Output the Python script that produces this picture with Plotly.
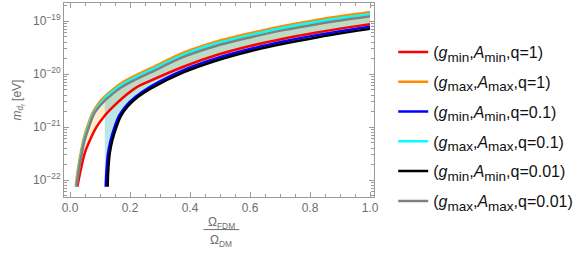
import plotly.graph_objects as go

# ---- data (x = Omega_FDM/Omega_DM, values = log10 of m in eV) ----
red_x = [0.0244, 0.0333, 0.049, 0.0667, 0.089, 0.113, 0.144, 0.18, 0.219, 0.267, 0.378, 0.489, 0.6, 0.711, 0.822, 0.933, 1.0]
red_lg = [-22.126, -21.874, -21.496, -21.245, -20.994, -20.805, -20.617, -20.428, -20.26, -20.13, -19.862, -19.642, -19.472, -19.333, -19.216, -19.115, -19.06]

orange_x = [0.019, 0.0244, 0.0356, 0.0444, 0.0578, 0.0744, 0.0967, 0.124, 0.145, 0.169, 0.213, 0.267, 0.378, 0.489, 0.6, 0.711, 0.822, 0.933, 1.0]
orange_lg = [-22.126, -21.874, -21.496, -21.245, -20.994, -20.742, -20.54, -20.38, -20.28, -20.18, -20.04, -19.895, -19.598, -19.386, -19.23, -19.092, -18.98, -18.883, -18.83]

blue_x = [0.119, 0.121, 0.1267, 0.1356, 0.149, 0.1633, 0.1856, 0.219, 0.267, 0.378, 0.489, 0.6, 0.711, 0.822, 0.933, 1.0]
blue_lg = [-22.126, -21.874, -21.496, -21.245, -20.994, -20.79, -20.607, -20.43, -20.24, -19.925, -19.70, -19.527, -19.386, -19.266, -19.163, -19.107]

cyan_x = [0.021, 0.0265, 0.038, 0.047, 0.061, 0.078, 0.1, 0.116, 0.124, 0.145, 0.169, 0.213, 0.267, 0.378, 0.489, 0.6, 0.711, 0.822, 0.933, 1.0]
cyan_lg = [-22.126, -21.874, -21.496, -21.245, -20.994, -20.742, -20.56, -20.46, -20.415, -20.315, -20.215, -20.075, -19.93, -19.633, -19.42, -19.265, -19.127, -19.015, -18.918, -18.865]

black_x = [0.1256, 0.127, 0.1325, 0.1415, 0.155, 0.17, 0.193, 0.227, 0.267, 0.378, 0.489, 0.6, 0.711, 0.822, 0.933, 1.0]
black_lg = [-22.126, -21.874, -21.496, -21.245, -20.994, -20.79, -20.607, -20.43, -20.28, -19.97, -19.745, -19.57, -19.43, -19.31, -19.205, -19.148]

gray_x = [0.022, 0.028, 0.0395, 0.049, 0.0635, 0.081, 0.103, 0.116, 0.124, 0.145, 0.169, 0.213, 0.267, 0.378, 0.489, 0.6, 0.711, 0.822, 0.933, 1.0]
gray_lg = [-22.126, -21.874, -21.496, -21.245, -20.994, -20.742, -20.58, -20.50, -20.46, -20.36, -20.26, -20.12, -19.975, -19.678, -19.466, -19.31, -19.172, -19.06, -18.963, -18.91]

fill_start_x = 0.116   # left edge of q=0.1 / q=0.01 filling
y_floor_lg = -22.126   # bottom of the plotted curves

SUB = "<sub><span style='font-size:13.5px'>{}</span></sub>"
names = [
    "(<i>g</i>" + SUB.format("min") + ",<i>A</i>" + SUB.format("min") + ",q=1)",
    "(<i>g</i>" + SUB.format("max") + ",<i>A</i>" + SUB.format("max") + ",q=1)",
    "(<i>g</i>" + SUB.format("min") + ",<i>A</i>" + SUB.format("min") + ",q=0.1)",
    "(<i>g</i>" + SUB.format("max") + ",<i>A</i>" + SUB.format("max") + ",q=0.1)",
    "(<i>g</i>" + SUB.format("min") + ",<i>A</i>" + SUB.format("min") + ",q=0.01)",
    "(<i>g</i>" + SUB.format("max") + ",<i>A</i>" + SUB.format("max") + ",q=0.01)",
]
colors = ["#ff0000", "#ff8c00", "#0000ff", "#00ffff", "#000000", "#808080"]

xticks = [0.0, 0.2, 0.4, 0.6, 0.8, 1.0]
xtick_text = ["0.0", "0.2", "0.4", "0.6", "0.8", "1.0"]
ydecades = [-22, -21, -20, -19]


def p(v):
    return [10 ** t for t in v]


fig = go.Figure()

# fillings (polygons built from the series)
def band(tx, tl, bx, bl, start_x, color):
    xs = list(tx) + list(reversed(bx)) + [start_x]
    ys = list(tl) + list(reversed(bl)) + [y_floor_lg]
    fig.add_trace(go.Scatter(x=xs, y=p(ys), fill="toself", fillcolor=color,
                             line=dict(width=0), mode="lines", showlegend=False,
                             hoverinfo="skip"))

band(orange_x, orange_lg, red_x, red_lg, orange_x[0], "rgba(255,165,0,0.2)")
ci = cyan_x.index(fill_start_x)
band(cyan_x[ci:], cyan_lg[ci:], blue_x, blue_lg, fill_start_x, "rgba(0,255,255,0.2)")
gi = gray_x.index(fill_start_x)
band(gray_x[gi:], gray_lg[gi:], black_x, black_lg, fill_start_x, "rgba(128,128,128,0.2)")

series = [(red_x, red_lg), (orange_x, orange_lg), (blue_x, blue_lg),
          (cyan_x, cyan_lg), (black_x, black_lg), (gray_x, gray_lg)]
for i, ((sx, sl), nm, c) in enumerate(zip(series, names, colors)):
    fig.add_trace(go.Scatter(x=sx, y=p(sl), mode="lines", name=nm,
                             legendgroup=f"g{i}",
                             line=dict(color=c, width=2.5, shape="spline", smoothing=0.8)))

minor_y = [m * 10 ** d for d in range(-23, -18) for m in range(2, 10)]
minor_x = [i * 0.05 for i in range(-1, 22)]

axis_col = "#9a9a9a"
tick_font = dict(family="Liberation Sans", size=12, color="#6e6e6e")

fig.update_xaxes(range=[-0.02, 1.0133], showgrid=False, zeroline=False,
                 showline=True, linecolor=axis_col, linewidth=1, mirror="ticks",
                 ticks="inside", ticklen=5, tickcolor=axis_col,
                 tickmode="array", tickvals=xticks, ticktext=xtick_text,
                 tickfont=tick_font,
                 minor=dict(ticks="inside", ticklen=3, tickcolor=axis_col,
                            tickmode="array", tickvals=minor_x, showgrid=False))
fig.update_yaxes(type="log", range=[-22.32, -18.66], showgrid=False, zeroline=False,
                 showline=True, linecolor=axis_col, linewidth=1, mirror="ticks",
                 ticks="inside", ticklen=5, tickcolor=axis_col,
                 tickmode="array", tickvals=[10 ** d for d in ydecades],
                 ticktext=[f"10<sup>\u2212{-d}</sup>" for d in ydecades],
                 tickfont=tick_font,
                 minor=dict(ticks="inside", ticklen=3, tickcolor=axis_col,
                            tickmode="array", tickvals=minor_y, showgrid=False))

title_font = dict(family="Liberation Sans", size=12, color="#6e6e6e")
fig.add_annotation(text="<i>m</i><sub><i>d</i><sub><i>f</i></sub></sub> [eV]",
                   xref="paper", yref="paper", x=-0.182, y=0.5, textangle=-90,
                   showarrow=False, font=title_font)
fig.add_annotation(text="\u03a9<sub>FDM</sub>", xref="paper", yref="paper",
                   x=0.508, y=-0.135, showarrow=False, font=title_font, yanchor="middle")
fig.add_annotation(text="\u03a9<sub>DM</sub>", xref="paper", yref="paper",
                   x=0.508, y=-0.225, showarrow=False, font=title_font, yanchor="middle")
fig.add_shape(type="line", xref="paper", yref="paper", x0=0.45, x1=0.565,
              y0=-0.168, y1=-0.168, line=dict(color="#6e6e6e", width=1))

fig.update_layout(
    width=581, height=256,
    margin=dict(l=64, r=207, t=3, b=59),
    plot_bgcolor="white", paper_bgcolor="white",
    legend=dict(x=1.062, y=0.835, xanchor="left", yanchor="top",
                font=dict(family="Liberation Sans", size=16, color="#111111"),
                traceorder="grouped", tracegroupgap=6, bgcolor="rgba(0,0,0,0)"),
)

fig.write_html("out.html", config={"displayModeBar": False},
               post_script="document.body.style.margin='0';document.body.style.padding='0';")
